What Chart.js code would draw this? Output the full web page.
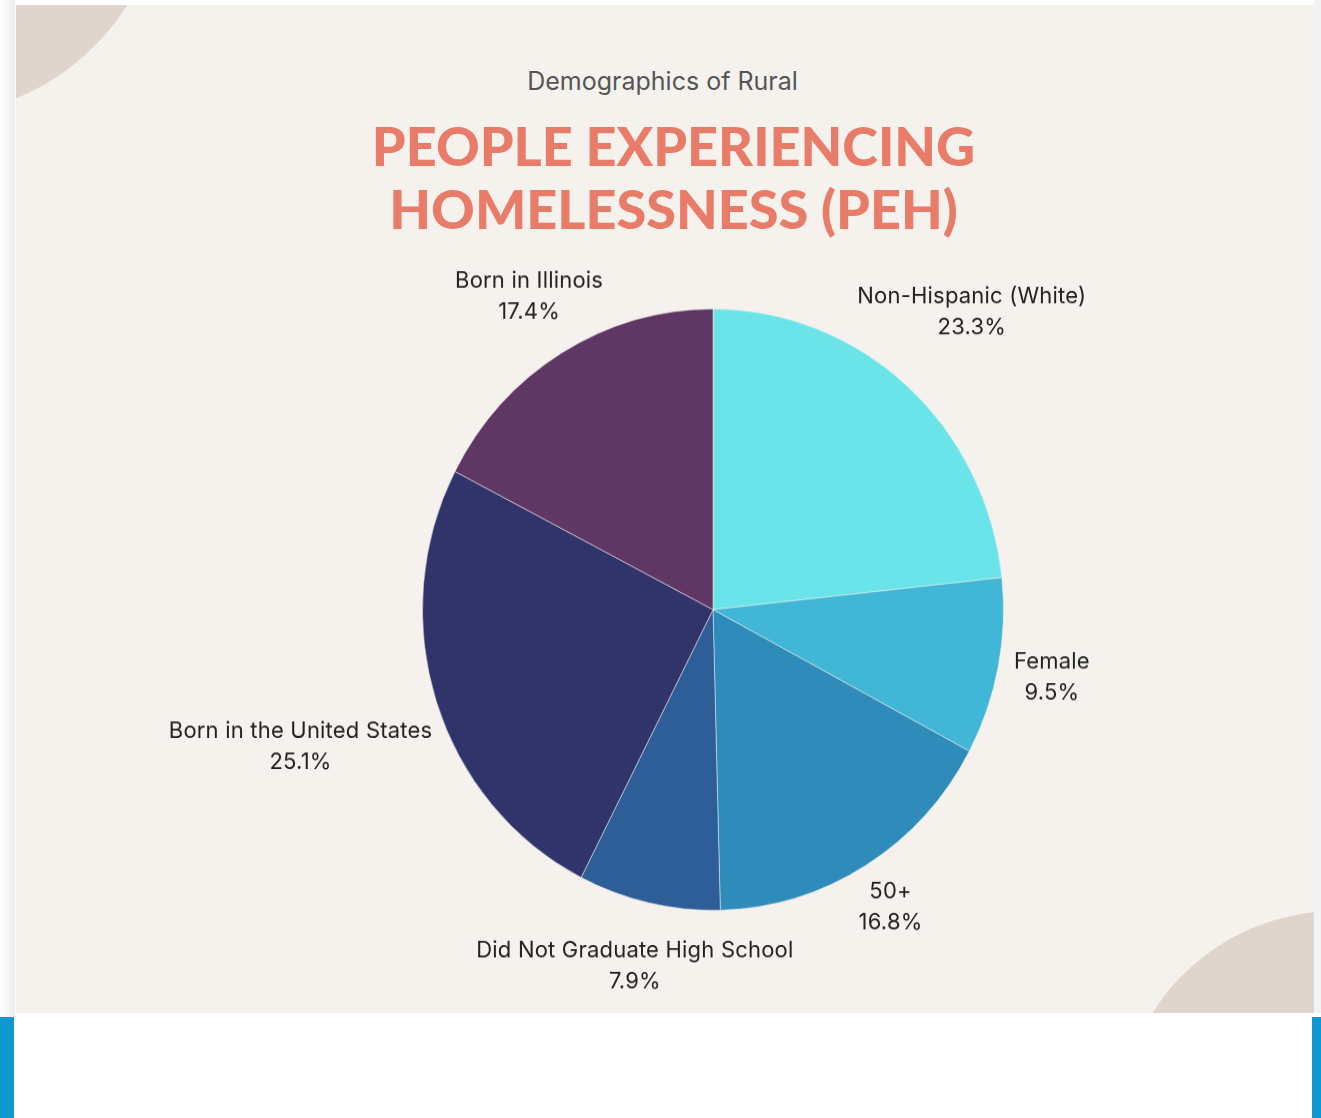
<!DOCTYPE html>
<html>
<head>
<meta charset="utf-8">
<script src="https://cdn.jsdelivr.net/npm/chart.js@4.4.0/dist/chart.umd.min.js"></script>
<style>
    html, body { margin: 0; padding: 0; background: #ffffff; }
    body { width: 1321px; height: 1118px; position: relative; overflow: hidden; font-family: 'Inter', 'Lato', sans-serif; }
    .shadow-left { position: absolute; left: 0; top: 0; width: 15px; height: 1017px; background: linear-gradient(to right, #ffffff, #ededed); }
    .shadow-right { position: absolute; left: 1314px; top: 0; width: 7px; height: 1013px; background: #f3f3f3; }
    .card { position: absolute; left: 16px; top: 5px; width: 1298px; height: 1008px; background: #f5f2ee; overflow: hidden; }
    .blob { position: absolute; border-radius: 50%; background: #dfd5cc; }
    .blob.tl { left: -328px; top: -365px; width: 476px; height: 476px; }
    .blob.br { left: 1103px; top: 906px; width: 436px; height: 436px; }
    .bar-left { position: absolute; left: 0; top: 1017px; width: 14px; height: 101px; background: #0d98cf; }
    .bar-right { position: absolute; left: 1312px; top: 1017px; width: 9px; height: 101px; background: #0d98cf; }
    .subtitle { position: absolute; left: 0; width: 1321px; top: 66px; text-align: center; font-size: 25px; color: #555555; padding-left: 2px; }
    .title { position: absolute; left: 0; width: 1321px; top: 114px; text-align: center; font-family: 'Lato', sans-serif; font-weight: 900; font-size: 54px; line-height: 63px; color: #e97c68; padding-left: 26px; box-sizing: border-box; }
    /* the reference pie is a little taller than wide, so the chart layer is stretched vertically */
    .chart-box { position: absolute; left: 0; top: 0; width: 1321px; height: 1080px; transform: scaleY(1.035); transform-origin: 0 0; }
</style>
</head>
<body>
<div class="shadow-left"></div>
<div class="shadow-right"></div>
<div class="card">
    <div class="blob tl"></div>
    <div class="blob br"></div>
</div>
<div class="bar-left"></div>
<div class="bar-right"></div>
<div class="subtitle">Demographics of Rural</div>
<div class="title">PEOPLE EXPERIENCING<br>HOMELESSNESS (PEH)</div>
<div class="chart-box"><canvas id="pehChart"></canvas></div>

<script>
// Data
const categories = ['Non-Hispanic (White)', 'Female', '50+', 'Did Not Graduate High School', 'Born in the United States', 'Born in Illinois'];
const shares = [23.3, 9.5, 16.8, 7.9, 25.1, 17.4];
const sliceColors = ['#6ae4e8', '#42b6d6', '#2e8bba', '#2e5e98', '#31346b', '#5f3764'];

// Labels outside the pie: name + percent
const outsideLabels = {
    id: 'outsideLabels',
    afterDatasetsDraw(chart) {
        const ctx = chart.ctx;
        const meta = chart.getDatasetMeta(0);
        const lineH = 30;
        const pad = 17;
        ctx.save();
        ctx.font = '22px Inter, Lato, sans-serif';
        ctx.letterSpacing = '0.2px';
        ctx.fillStyle = '#222222';
        ctx.textAlign = 'center';
        ctx.textBaseline = 'middle';
        meta.data.forEach((arc, i) => {
            const lines = [categories[i], shares[i].toFixed(1) + '%'];
            const w = Math.max(...lines.map(l => ctx.measureText(l).width));
            const h = lineH * lines.length;
            const mid = (arc.startAngle + arc.endAngle) / 2;
            const cos = Math.cos(mid), sin = Math.sin(mid);
            // push the label box out until it clears the rim
            const d = arc.outerRadius + pad + Math.hypot(cos * w / 2, sin * h / 2);
            const cx = arc.x + cos * d;
            const cy = arc.y + sin * d;
            lines.forEach((l, j) => {
                ctx.fillText(l, cx, cy + (j - (lines.length - 1) / 2) * lineH);
            });
        });
        ctx.restore();
    }
};

document.addEventListener('DOMContentLoaded', function() {
    const chartCtx = document.getElementById('pehChart');

    new Chart(chartCtx, {
        type: 'pie',
        data: {
            labels: categories,
            datasets: [{
                data: shares,
                backgroundColor: sliceColors,
                borderColor: 'rgba(245, 242, 238, 0.5)',
                borderWidth: 1
            }]
        },
        options: {
            responsive: true,
            maintainAspectRatio: false,
            animation: false,
            layout: {
                padding: { left: 422, right: 317, top: 298, bottom: 200 }
            },
            plugins: {
                legend: { display: false },
                tooltip: { enabled: false }
            }
        },
        plugins: [outsideLabels]
    });
});
</script>
</body>
</html>
